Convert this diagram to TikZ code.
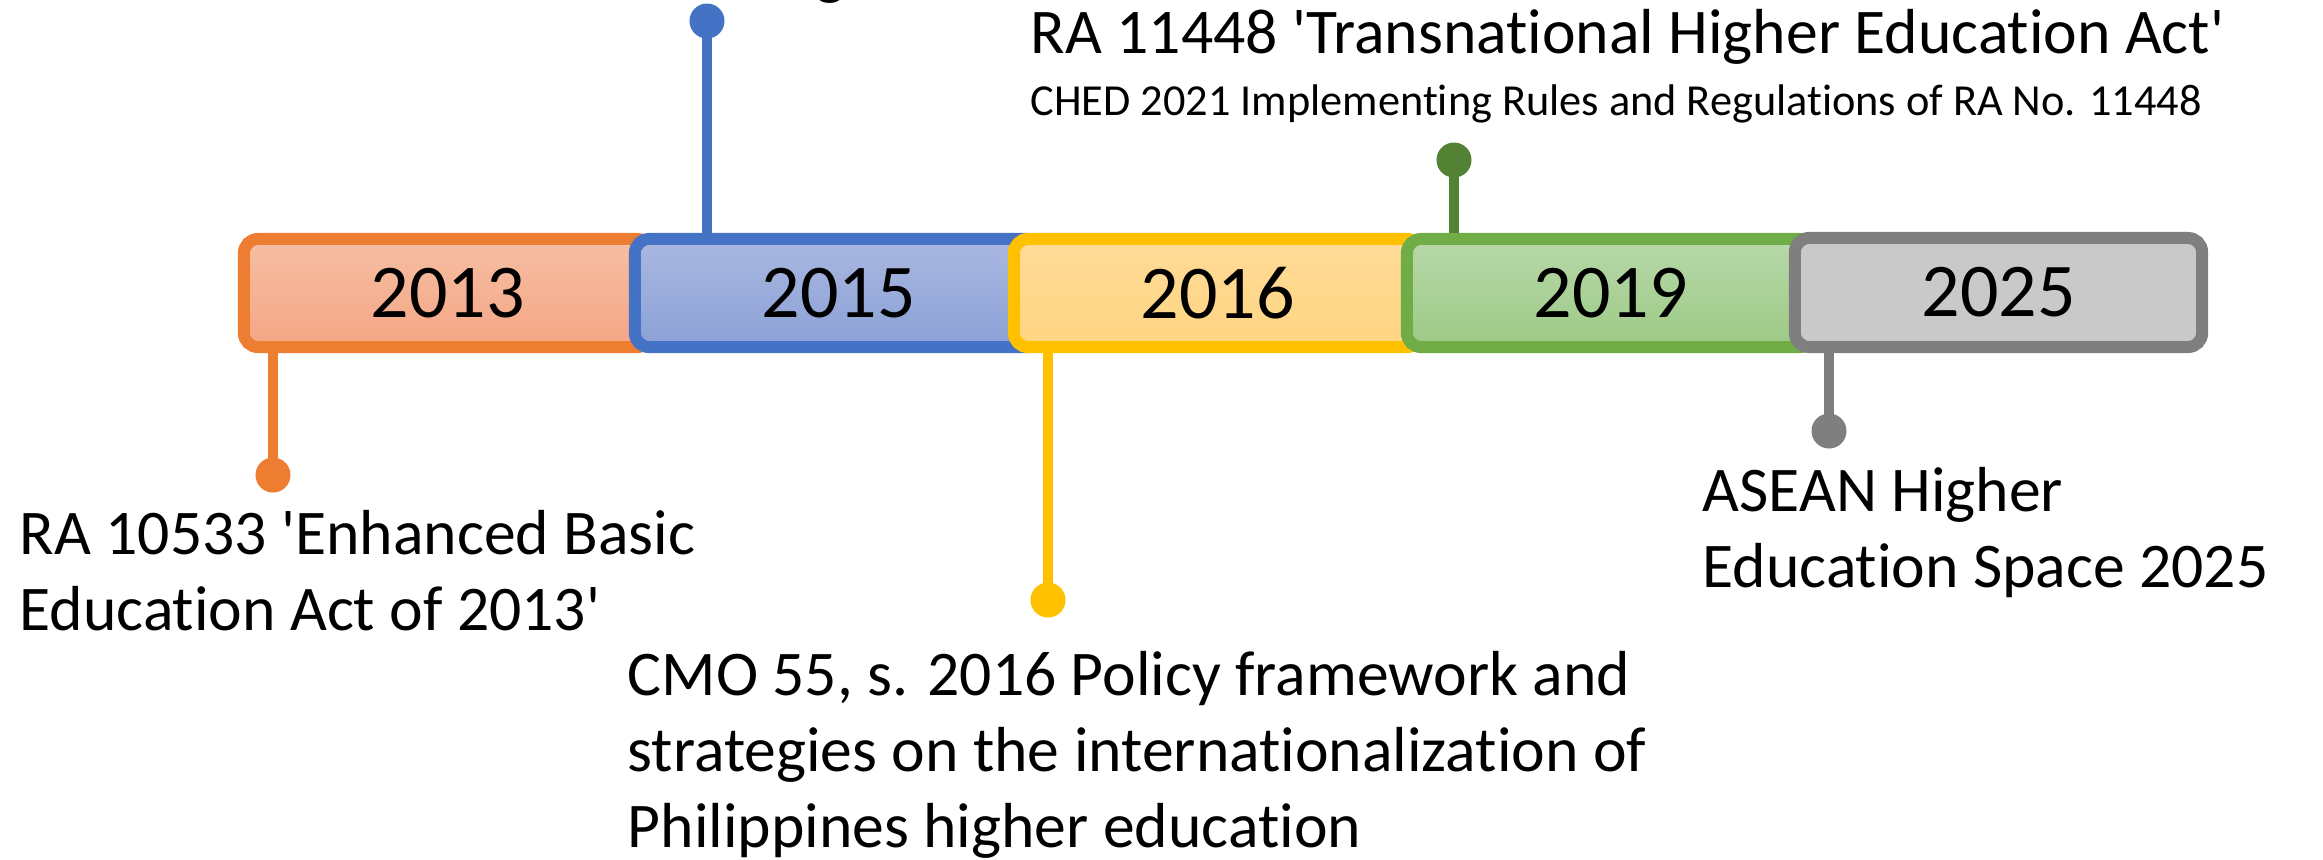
\documentclass[tikz,border=0pt]{standalone}
\usepackage{fontspec}
\setmainfont[Ligatures={NoCommon}]{Carlito}
\newcommand{\sq}{\textquotesingle}
\definecolor{cOrange}{HTML}{ED7D31}
\definecolor{cOrangeT}{HTML}{F7BEA3}
\definecolor{cOrangeB}{HTML}{F4A684}
\definecolor{cBlue}{HTML}{4472C4}
\definecolor{cBlueT}{HTML}{AAB8E0}
\definecolor{cBlueB}{HTML}{8AA0D6}
\definecolor{cGold}{HTML}{FFC000}
\definecolor{cGoldT}{HTML}{FFDB98}
\definecolor{cGoldB}{HTML}{FFD581}
\definecolor{cGreen}{HTML}{70AD47}
\definecolor{cGreenT}{HTML}{B7D8A9}
\definecolor{cGreenB}{HTML}{9DCA86}
\definecolor{cGreenDark}{HTML}{548235}
\definecolor{cGray}{HTML}{7F7F7F}
\definecolor{cGrayF}{HTML}{C9C9C9}
\begin{document}
\begin{tikzpicture}[x=0.01cm,y=0.01cm,
  yearbox/.style={draw, line width=3.41pt, rounded corners=4pt,
    minimum width=4.07cm, minimum height=1.08cm, inner sep=0pt,
    font=\fontsize{21.6}{26}\selectfont},
  stem/.style={line width=3.1pt},
  pin/.style={circle, inner sep=0pt, minimum size=0.35cm},
  event/.style={anchor=base west, inner sep=0pt, align=left,
    font=\fontsize{18.1}{21.6}\selectfont}
]
\useasboundingbox (0,0) rectangle (2323,-859);

% year bar, each later box lying over the previous one
\node[yearbox, draw=cOrange, top color=cOrangeT, bottom color=cOrangeB] (y2013) at (447.5,-293) {2013};
\node[yearbox, draw=cBlue, top color=cBlueT, bottom color=cBlueB] (y2015) at (838.5,-293) {2015};
\node[yearbox, draw=cGold, top color=cGoldT, bottom color=cGoldB] (y2016) at (1217.5,-293) {2016};
\node[yearbox, draw=cGreen, top color=cGreenT, bottom color=cGreenB] (y2019) at (1610.5,-293) {2019};
\node[yearbox, draw=cGray, fill=cGrayF, minimum height=1.09cm] (y2025) at (1998.5,-292.5) {2025};

% pin heads
\node[pin, fill=cOrange] (d2013) at (273,-475) {};
\node[pin, fill=cBlue] (d2015) at (707,-21) {};
\node[pin, fill=cGold] (d2016) at (1048,-600) {};
\node[pin, fill=cGreenDark] (d2019) at (1454,-160) {};
\node[pin, fill=cGray] (d2025) at (1829,-431) {};

% pin stems
\draw[stem, cOrange] (d2013.center) -- (d2013 |- y2013.south);
\draw[stem, cBlue] (d2015.center) -- (d2015 |- y2015.north);
\draw[stem, cGold] (d2016.center) -- (d2016 |- y2016.south);
\draw[stem, cGreenDark] (d2019.center) -- (d2019 |- y2019.north);
\draw[stem, cGray] (d2025.center) -- (d2025 |- y2025.south);

% event texts (anchored at the baseline of their last line)
\node[event] (t2013) at (19,-630) {RA 10533 \sq Enhanced Basic\\Education Act of 2013\sq};
\node[event] (t2016) at (627,-847) {CMO 55, s. 2016 Policy framework and\\strategies on the internationalization of\\Philippines higher education};
\node[event] (t2025) at (1702,-587) {ASEAN Higher\\Education Space 2025};
\node[event] (t2019) at (1030,-53) {RA 11448 \sq Transnational Higher Education Act\sq};
\node[event, font=\fontsize{12.6}{15}\selectfont] (t2019b) at (1030,-115) {CHED 2021 Implementing Rules and Regulations of RA No. 11448};

% text running off the top edge
\begin{scope}
\clip (0,0) rectangle (2323,-859);
\node[event, anchor=base] (t2015) at (830,8) {g};
\end{scope}
\end{tikzpicture}
\end{document}
